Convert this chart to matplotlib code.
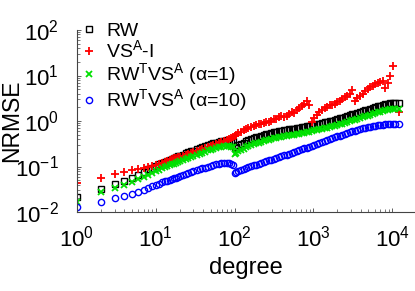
import matplotlib
matplotlib.use('agg')
import matplotlib.pyplot as plt
import numpy as np

# degrees shared by all series
degree = [1, 2, 3, 4, 5, 6, 7, 8, 9, 10, 11, 12, 13, 14, 15, 16, 17, 18, 19, 20,
          22, 24, 26, 28, 30, 33, 36, 39, 42, 46,
          50, 54, 58, 63, 68, 73, 79, 85, 91, 96,
          100, 105, 112, 120, 130, 140, 150, 162, 175, 188,
          202, 218, 235, 253, 272, 293, 316, 340, 366, 394,
          424, 457, 492, 530, 570, 614, 661, 712, 767, 826,
          889, 957, 1030, 1110, 1195, 1287, 1386, 1492, 1607, 1730,
          1863, 2006, 2160, 2326, 2505, 2697, 2904, 3127, 3367, 3626,
          3904, 4204, 4527, 4875, 5249, 5652, 6086, 6553, 7057, 7599,
          8182, 8811, 9488, 10216, 11000, 12200]

rw = [0.021, 0.032, 0.041, 0.048, 0.057, 0.066, 0.076, 0.086, 0.095, 0.104,
      0.111, 0.118, 0.125, 0.132, 0.139, 0.146, 0.153, 0.160, 0.166, 0.172,
      0.183, 0.194, 0.204, 0.214, 0.224, 0.238, 0.252, 0.265, 0.278, 0.294,
      0.309, 0.322, 0.334, 0.347, 0.358, 0.367, 0.374, 0.376, 0.370, 0.355,
      0.255, 0.27, 0.29, 0.31, 0.335, 0.355, 0.375, 0.395, 0.415, 0.435,
      0.455, 0.475, 0.495, 0.512, 0.528, 0.545, 0.562, 0.578, 0.594, 0.610,
      0.625, 0.640, 0.653, 0.667, 0.680, 0.695, 0.710, 0.727, 0.745, 0.765,
      0.785, 0.806, 0.828, 0.851, 0.876, 0.902, 0.930, 0.960, 0.992, 1.025,
      1.06, 1.10, 1.14, 1.18, 1.23, 1.28, 1.33, 1.39, 1.45, 1.51,
      1.57, 1.64, 1.71, 1.78, 1.85, 1.93, 2.01, 2.09, 2.17, 2.25,
      2.32, 2.38, 2.43, 2.48, 2.52, 2.55]

vs = [0.043, 0.055, 0.067, 0.076, 0.083, 0.090, 0.094, 0.099, 0.105, 0.110,
      0.116, 0.122, 0.128, 0.134, 0.140, 0.145, 0.150, 0.155, 0.160, 0.165,
      0.174, 0.183, 0.192, 0.200, 0.210, 0.222, 0.235, 0.248, 0.260, 0.274,
      0.288, 0.300, 0.312, 0.326, 0.340, 0.355, 0.375, 0.395, 0.42, 0.44,
      0.47, 0.50, 0.54, 0.58, 0.62, 0.66, 0.69, 0.73, 0.77, 0.80,
      0.84, 0.86, 0.90, 0.94, 0.97, 1.02, 1.08, 1.13, 1.20, 1.27,
      1.22, 1.32, 1.42, 1.55, 1.50, 1.75, 1.95, 2.15, 2.40, 2.75,
      2.30, 0.95, 1.15, 1.35, 1.60, 1.75, 1.90, 2.05, 2.20, 2.30,
      2.40, 2.60, 2.80, 3.00, 3.30, 3.60, 4.00, 4.70, 2.80, 3.20,
      3.60, 4.00, 4.50, 5.00, 5.60, 6.00, 6.40, 6.80, 7.30, 7.50,
      5.20, 7.00, 9.80, 16.0, np.nan, 1.57]

rwvs1 = [0.017, 0.027, 0.033, 0.039, 0.045, 0.052, 0.059, 0.066, 0.073, 0.080,
         0.085, 0.091, 0.096, 0.101, 0.106, 0.111, 0.116, 0.121, 0.126, 0.130,
         0.139, 0.147, 0.155, 0.163, 0.170, 0.181, 0.192, 0.202, 0.212, 0.225,
         0.236, 0.246, 0.255, 0.264, 0.272, 0.278, 0.281, 0.280, 0.274, 0.262,
         0.19, 0.20, 0.215, 0.23, 0.248, 0.263, 0.278, 0.293, 0.308, 0.322,
         0.336, 0.350, 0.364, 0.377, 0.389, 0.401, 0.413, 0.425, 0.437, 0.449,
         0.460, 0.471, 0.482, 0.493, 0.504, 0.516, 0.528, 0.541, 0.555, 0.570,
         0.586, 0.602, 0.619, 0.637, 0.656, 0.676, 0.697, 0.719, 0.742, 0.766,
         0.79, 0.82, 0.85, 0.88, 0.91, 0.95, 0.99, 1.03, 1.07, 1.11,
         1.16, 1.21, 1.26, 1.31, 1.36, 1.42, 1.48, 1.54, 1.60, 1.66,
         1.71, 1.75, 1.79, 1.82, 1.84, 1.86]

rwvs10 = [0.013, 0.017, 0.020, 0.023, 0.025, 0.028, 0.031, 0.034, 0.037, 0.040,
          0.042, 0.045, 0.047, 0.049, 0.051, 0.053, 0.055, 0.057, 0.059, 0.061,
          0.065, 0.068, 0.072, 0.075, 0.078, 0.083, 0.087, 0.091, 0.095, 0.100,
          0.104, 0.108, 0.112, 0.115, 0.118, 0.120, 0.121, 0.120, 0.116, 0.110,
          0.073, 0.076, 0.080, 0.084, 0.089, 0.093, 0.097, 0.101, 0.106, 0.110,
          0.115, 0.120, 0.125, 0.130, 0.136, 0.142, 0.148, 0.155, 0.161, 0.168,
          0.175, 0.183, 0.191, 0.199, 0.208, 0.217, 0.227, 0.238, 0.249, 0.261,
          0.274, 0.287, 0.301, 0.316, 0.331, 0.347, 0.364, 0.382, 0.400, 0.419,
          0.438, 0.458, 0.479, 0.500, 0.522, 0.545, 0.568, 0.592, 0.616, 0.640,
          0.664, 0.688, 0.711, 0.733, 0.754, 0.773, 0.790, 0.805, 0.818, 0.829,
          0.838, 0.846, 0.852, 0.857, 0.862, 0.870]

plt.rcParams['font.family'] = ['Liberation Sans', 'DejaVu Sans']
plt.rcParams['mathtext.fontset'] = 'custom'
plt.rcParams['mathtext.rm'] = 'Liberation Sans'
plt.rcParams['mathtext.it'] = 'Liberation Sans'
plt.rcParams['mathtext.default'] = 'regular'

fig = plt.figure(figsize=(4.15, 2.91), dpi=100)
ax = fig.add_axes([77/415, 1-212/291, 338/415, 182/291])

ax.plot(degree, rw, ls='none', marker='s', ms=4.5, mfc='none', mec='black', mew=1.0, label='RW')
ax.plot(degree, vs, ls='none', marker='+', ms=6, color='#ff0000', mew=1.3, label='VS$^A$-I')
ax.plot(degree, rwvs1, ls='none', marker='x', ms=5, color='#00e000', mew=1.3,
        label='RW$^T$VS$^A$ (α=1)')
ax.plot(degree, rwvs10, ls='none', marker='o', ms=4.5, mfc='none', mec='#0000ff', mew=1.0,
        label='RW$^T$VS$^A$ (α=10)')

ax.set_xscale('log')
ax.set_yscale('log')
ax.set_xlim(1, 10**4.29)
ax.set_ylim(1e-2, 1e2)
ax.set_xticks([1, 10, 100, 1000, 10000])
ax.set_yticks([1e-2, 1e-1, 1, 10, 100])

for s in ['top', 'right']:
    ax.spines[s].set_visible(False)
for s in ['left', 'bottom']:
    ax.spines[s].set_color('#444444')
    ax.spines[s].set_linewidth(0.8)

ax.tick_params(which='major', direction='in', length=3, width=0.6, labelsize=16, pad=10,
               colors='#444444', labelcolor='black')
ax.tick_params(which='minor', direction='in', length=2, width=0.5, colors='#444444')
ax.tick_params(axis='y', which='major', pad=13)

ax.set_xlabel('degree', fontsize=17, labelpad=4)
ax.set_ylabel('NRMSE', fontsize=16.5)
ax.yaxis.set_label_coords(-0.158, 0.5)

ax.legend(loc='upper left', bbox_to_anchor=(0.012, 1.055), frameon=False, fontsize=14,
          handlelength=0.6, handletextpad=0.6, labelspacing=0.0, borderpad=0.1,
          borderaxespad=0.0, markerscale=1.0)

fig.savefig('out.png', dpi=100)
